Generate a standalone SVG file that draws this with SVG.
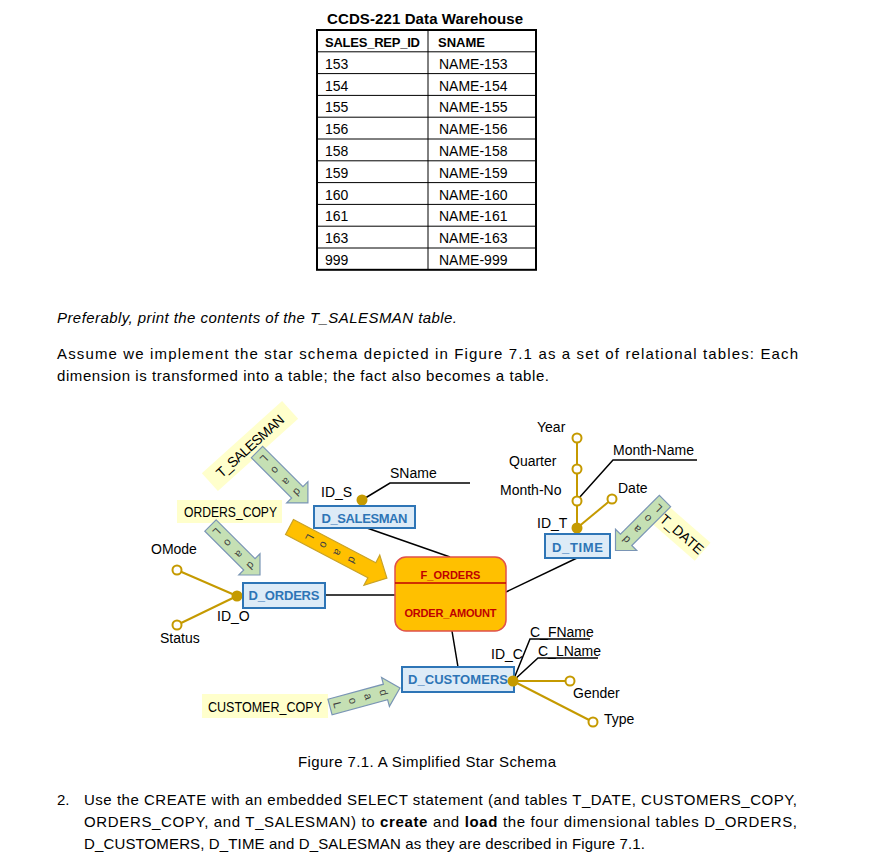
<svg xmlns="http://www.w3.org/2000/svg" width="871" height="864" viewBox="0 0 871 864">
<style>
text{font-family:"Liberation Sans",Arial,sans-serif;fill:#000}
.t{font-size:14px}
.tb{font-size:13px;font-weight:bold}
.p{font-size:15px}
.lbl{font-size:14px}
.box{fill:#DDEBF7;stroke:#2E75B6;stroke-width:2}
.bt{font-size:13px;font-weight:bold;fill:#2E75B6;text-anchor:middle}
.gold{stroke:#C59A00;stroke-width:2;fill:none}
.oc{fill:#fff;stroke:#C59A00;stroke-width:2}
.dot{fill:#C59A00}
.blk{stroke:#000;stroke-width:1.5;fill:none}
.ga{fill:#C5E0B4;stroke:#7A95B5;stroke-width:1.2}
.oa{fill:#FFC000;stroke:#C9A227;stroke-width:1.2}
.yl{fill:#FFFFCC}
.ld{font-size:11px;fill:#404040;text-anchor:middle;dominant-baseline:central}
.fo{font-size:11px;font-weight:bold;fill:#C00000;text-anchor:middle}
</style>

<g id="table">
<text x="425" y="24" font-size="15" font-weight="bold" text-anchor="middle" textLength="196" lengthAdjust="spacing">CCDS-221 Data Warehouse</text>
<g stroke="#000" stroke-width="1">
<line x1="317" y1="51.8" x2="536" y2="51.8"/>
<line x1="317" y1="73.6" x2="536" y2="73.6"/>
<line x1="317" y1="95.4" x2="536" y2="95.4"/>
<line x1="317" y1="117.2" x2="536" y2="117.2"/>
<line x1="317" y1="139" x2="536" y2="139"/>
<line x1="317" y1="160.8" x2="536" y2="160.8"/>
<line x1="317" y1="182.6" x2="536" y2="182.6"/>
<line x1="317" y1="204.4" x2="536" y2="204.4"/>
<line x1="317" y1="226.2" x2="536" y2="226.2"/>
<line x1="317" y1="248" x2="536" y2="248"/>
<line x1="428" y1="30" x2="428" y2="269.8"/>
</g>
<rect x="317" y="30" width="219" height="239.8" fill="none" stroke="#000" stroke-width="2"/>
<text class="tb" x="325" y="47" textLength="95">SALES_REP_ID</text>
<text class="tb" x="438" y="47">SNAME</text>
<text class="t" x="325" y="68.8">153</text><text class="t" x="439" y="68.8">NAME-153</text>
<text class="t" x="325" y="90.6">154</text><text class="t" x="439" y="90.6">NAME-154</text>
<text class="t" x="325" y="112.4">155</text><text class="t" x="439" y="112.4">NAME-155</text>
<text class="t" x="325" y="134.2">156</text><text class="t" x="439" y="134.2">NAME-156</text>
<text class="t" x="325" y="156">158</text><text class="t" x="439" y="156">NAME-158</text>
<text class="t" x="325" y="177.8">159</text><text class="t" x="439" y="177.8">NAME-159</text>
<text class="t" x="325" y="199.6">160</text><text class="t" x="439" y="199.6">NAME-160</text>
<text class="t" x="325" y="221.4">161</text><text class="t" x="439" y="221.4">NAME-161</text>
<text class="t" x="325" y="243.2">163</text><text class="t" x="439" y="243.2">NAME-163</text>
<text class="t" x="325" y="265">999</text><text class="t" x="439" y="265">NAME-999</text>
</g>

<g id="paragraphs">
<text class="p" x="57" y="323" font-style="italic" textLength="400" lengthAdjust="spacing">Preferably, print the contents of the T_SALESMAN table.</text>
<text class="p" x="57" y="359" textLength="741" lengthAdjust="spacing">Assume we implement the star schema depicted in Figure 7.1 as a set of relational tables: Each</text>
<text class="p" x="57" y="381" textLength="492" lengthAdjust="spacing">dimension is transformed into a table; the fact also becomes a table.</text>
<text class="p" x="298" y="767" textLength="258" lengthAdjust="spacing">Figure 7.1.  A Simplified Star Schema</text>
<text class="p" x="57" y="805">2.</text>
<text class="p" x="84" y="805" textLength="713" lengthAdjust="spacing">Use the CREATE with an embedded SELECT statement (and tables T_DATE, CUSTOMERS_COPY,</text>
<text class="p" x="84" y="827" textLength="713" lengthAdjust="spacing">ORDERS_COPY, and T_SALESMAN) to <tspan font-weight="bold">create</tspan> and <tspan font-weight="bold">load</tspan> the four dimensional tables D_ORDERS,</text>
<text class="p" x="84" y="849" textLength="561" lengthAdjust="spacing">D_CUSTOMERS, D_TIME and D_SALESMAN as they are described in Figure 7.1.</text>
</g>

<g id="connectors">
<line class="blk" x1="367" y1="528" x2="450" y2="557"/>
<line class="blk" x1="325" y1="595" x2="395" y2="595"/>
<line class="blk" x1="577" y1="558" x2="506" y2="592"/>
<line class="blk" x1="452" y1="631" x2="458" y2="667"/>
</g>

<g id="F_ORDERS">
<rect x="395" y="557" width="111" height="74" rx="11" fill="#FFC000" stroke="#E0504A" stroke-width="1.5"/>
<line x1="395" y1="583" x2="506" y2="583" stroke="#C00000" stroke-width="1.5"/>
<text class="fo" x="450.5" y="579">F_ORDERS</text>
<text class="fo" x="450.5" y="617" textLength="92">ORDER_AMOUNT</text>
</g>

<g id="D_SALESMAN">
<polyline class="blk" points="362,500 390,483 470,483"/>
<circle class="dot" cx="362" cy="500" r="5.5"/>
<text class="lbl" x="321" y="497">ID_S</text>
<text class="lbl" x="390" y="478">SName</text>
<rect class="box" x="314" y="506" width="101" height="22"/>
<text class="bt" x="364.5" y="523" textLength="86">D_SALESMAN</text>
</g>

<g id="D_ORDERS">
<line class="gold" x1="237" y1="596" x2="177" y2="570"/>
<line class="gold" x1="237" y1="596" x2="177" y2="625"/>
<circle class="oc" cx="177" cy="570" r="4.5"/>
<circle class="oc" cx="177" cy="625" r="4.5"/>
<circle class="dot" cx="237" cy="596" r="5.5"/>
<text class="lbl" x="151" y="554">OMode</text>
<text class="lbl" x="217" y="621">ID_O</text>
<text class="lbl" x="160" y="643">Status</text>
<rect class="box" x="243" y="583" width="82" height="25"/>
<text class="bt" x="284" y="600" textLength="71">D_ORDERS</text>
</g>

<g id="D_TIME">
<line class="gold" x1="577" y1="528" x2="577" y2="438"/>
<line class="gold" x1="577" y1="528" x2="612" y2="499"/>
<polyline class="blk" points="579,498 613,460 697,460"/>
<circle class="oc" cx="577" cy="438" r="4.5"/>
<circle class="oc" cx="577" cy="469" r="4.5"/>
<circle class="oc" cx="577" cy="501" r="4.5"/>
<circle class="oc" cx="612" cy="499" r="4.5"/>
<circle class="dot" cx="577" cy="528" r="5.5"/>
<text class="lbl" x="537" y="432">Year</text>
<text class="lbl" x="509" y="466">Quarter</text>
<text class="lbl" x="500" y="495">Month-No</text>
<text class="lbl" x="537" y="528">ID_T</text>
<text class="lbl" x="618" y="493">Date</text>
<text class="lbl" x="613" y="455">Month-Name</text>
<rect class="box" x="545" y="534" width="65" height="24"/>
<text class="bt" x="577.5" y="552" textLength="51">D_TIME</text>
</g>

<g id="D_CUSTOMERS">
<polyline class="blk" points="513,681 530,639 590,639"/>
<polyline class="blk" points="513,681 538,658 598,658"/>
<line class="gold" x1="513" y1="681" x2="570" y2="681"/>
<line class="gold" x1="513" y1="681" x2="593" y2="722"/>
<circle class="oc" cx="570" cy="681" r="4.5"/>
<circle class="oc" cx="593" cy="722" r="4.5"/>
<rect class="box" x="402" y="667" width="112" height="25"/>
<text class="bt" x="458" y="684" textLength="100">D_CUSTOMERS</text>
<circle class="dot" cx="513" cy="681" r="5.5"/>
<text class="lbl" x="530" y="637">C_FName</text>
<text class="lbl" x="538" y="656">C_LName</text>
<text class="lbl" x="491" y="659">ID_C</text>
<text class="lbl" x="573" y="698">Gender</text>
<text class="lbl" x="604" y="724">Type</text>
</g>

<g id="T_SALESMAN">
<rect class="yl" x="-54" y="-12" width="108" height="24" transform="translate(250,446) rotate(-42)"/>
<text class="lbl" text-anchor="middle" dominant-baseline="central" textLength="86" transform="translate(250,446) rotate(-42)">T_SALESMAN</text>
<path class="ga" d="M0,-8 L57,-8 L57,-15 L72,0 L57,15 L57,8 L0,8 Z" transform="translate(257,452) rotate(45)"/>
<text class="ld" transform="translate(264.1,459.1) rotate(135)">L</text>
<text class="ld" transform="translate(275.4,470.4) rotate(135)">o</text>
<text class="ld" transform="translate(286.7,481.7) rotate(135)">a</text>
<text class="ld" transform="translate(297.3,492.3) rotate(135)">d</text>
</g>

<g id="ORDERS_COPY">
<rect class="yl" x="177" y="500" width="105" height="23"/>
<text class="lbl" x="184" y="517" textLength="93" lengthAdjust="spacingAndGlyphs">ORDERS_COPY</text>
<path class="ga" d="M0,-8 L55,-8 L55,-15 L70,0 L55,15 L55,8 L0,8 Z" transform="translate(210.5,525.5) rotate(45)"/>
<text class="ld" transform="translate(216.9,531.9) rotate(135)">L</text>
<text class="ld" transform="translate(228.2,543.2) rotate(135)">o</text>
<text class="ld" transform="translate(239.5,554.5) rotate(135)">a</text>
<text class="ld" transform="translate(250.8,565.8) rotate(135)">d</text>
</g>

<g id="load_fact">
<path class="oa" d="M0,-8.5 L93,-8.5 L93,-17 L110,0 L93,17 L93,8.5 L0,8.5 Z" transform="translate(289.5,527) rotate(27.7)"/>
<text class="ld" transform="translate(309.9,537.7) rotate(117.7)">L</text>
<text class="ld" transform="translate(324,545.1) rotate(117.7)">o</text>
<text class="ld" transform="translate(338.2,552.6) rotate(117.7)">a</text>
<text class="ld" transform="translate(352.4,560) rotate(117.7)">d</text>
</g>

<g id="T_DATE">
<rect class="yl" x="-30" y="-12" width="60" height="24" transform="translate(680,532) rotate(41)"/>
<text class="lbl" text-anchor="middle" dominant-baseline="central" transform="translate(682,534) rotate(41)">T_DATE</text>
<path class="ga" d="M0,-8 L55,-8 L55,-15 L70,0 L55,15 L55,8 L0,8 Z" transform="translate(665,501) rotate(135)"/>
<text class="ld" transform="translate(657.9,508.1) rotate(225)">L</text>
<text class="ld" transform="translate(647.3,518.7) rotate(225)">o</text>
<text class="ld" transform="translate(636.7,529.3) rotate(225)">a</text>
<text class="ld" transform="translate(626.1,539.9) rotate(225)">d</text>
</g>

<g id="CUSTOMER_COPY">
<rect class="yl" x="202" y="694" width="126" height="24"/>
<text class="lbl" x="208" y="712" textLength="114" lengthAdjust="spacingAndGlyphs">CUSTOMER_COPY</text>
<path class="ga" d="M0,-8 L57.5,-8 L57.5,-15 L72.5,0 L57.5,15 L57.5,8 L0,8 Z" transform="translate(330,707) rotate(-15.2)"/>
<text class="ld" transform="translate(337.7,704.9) rotate(74.8)">L</text>
<text class="ld" transform="translate(353.2,700.7) rotate(74.8)">o</text>
<text class="ld" transform="translate(368.6,696.5) rotate(74.8)">a</text>
<text class="ld" transform="translate(384,692.3) rotate(74.8)">d</text>
</g>
</svg>
